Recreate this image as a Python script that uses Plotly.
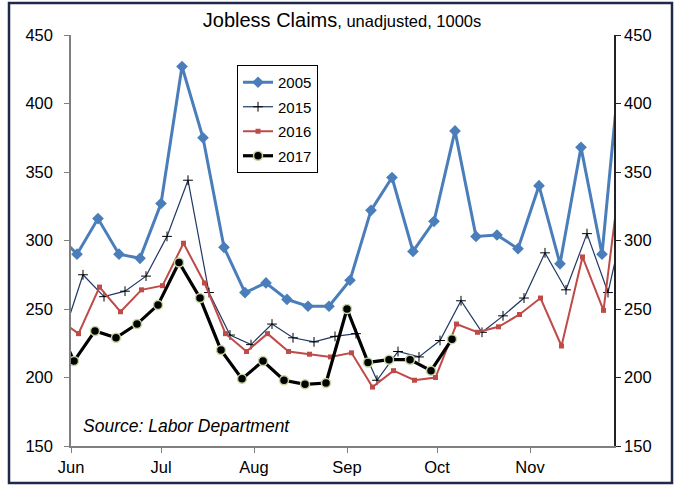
import plotly.graph_objects as go
import pandas as pd

# Weekly unadjusted initial jobless claims (thousands), plotted on a common Jun-Nov calendar.
# First value in each list is the week before June (clipped at the axis), the last values of
# 2005/2015/2016 are the week after the axis end (also clipped).
start_2005 = "2017-05-27"
start_2015 = "2017-05-29"
start_2016 = "2017-05-27 12:00"
start_2017 = "2017-05-26"

c2005 = [306, 290, 316, 290, 287, 327, 427, 375, 295, 262, 269, 257, 252, 252, 271,
         322, 346, 292, 314, 380, 303, 304, 294, 340, 283, 368, 290, 450]
c2015 = [228, 275, 259, 263, 274, 303, 344, 262, 231, 224, 239, 229, 226, 230, 232,
         198, 219, 215, 227, 256, 233, 245, 258, 291, 264, 305, 262, 330]
c2016 = [243, 232, 266, 248, 264, 267, 298, 269, 232, 219, 232, 219, 217, 215, 218,
         193, 205, 198, 200, 239, 233, 237, 246, 258, 223, 288, 249, 372]
c2017 = [245, 212, 234, 229, 239, 253, 284, 258, 220, 199, 212, 198, 195, 196, 250,
         211, 213, 213, 205, 228]

y_ticks = [150, 200, 250, 300, 350, 400, 450]
x_range = ["2017-06-01", "2017-11-29"]


def weeks(start, n):
    return pd.date_range(start, periods=n, freq="7D")


FONT = "Liberation Sans, Arial, sans-serif"

fig = go.Figure()
fig.add_trace(go.Scatter(
    x=weeks(start_2005, len(c2005)), y=c2005, name="2005", mode="lines+markers",
    line=dict(color="#4A7EBB", width=3),
    marker=dict(symbol="diamond", size=9, color="#4A7EBB"),
    legendgroup="a"))
fig.add_trace(go.Scatter(
    x=weeks(start_2015, len(c2015)), y=c2015, name="2015", mode="lines+markers",
    line=dict(color="#1F3864", width=1.2),
    marker=dict(symbol="cross-thin", size=7, color="#000000",
                line=dict(color="#000000", width=1)),
    legendgroup="b"))
fig.add_trace(go.Scatter(
    x=weeks(start_2016, len(c2016)), y=c2016, name="2016", mode="lines+markers",
    line=dict(color="#BE4B48", width=2),
    marker=dict(symbol="square", size=5, color="#BE4B48"),
    legendgroup="c"))
fig.add_trace(go.Scatter(
    x=weeks(start_2017, len(c2017)), y=c2017, name="2017", mode="lines+markers",
    line=dict(color="#000000", width=3.2),
    marker=dict(symbol="circle", size=9, color="#000000",
                line=dict(color="#C3D69B", width=1.5)),
    legendgroup="d"))

fig.update_layout(
    width=680, height=485,
    margin=dict(l=71, r=66, t=35, b=39, autoexpand=False),
    paper_bgcolor="white", plot_bgcolor="white",
    font=dict(family=FONT, size=16, color="#000000"),
    showlegend=True,
    hovermode=False,
    title=dict(
        text="Jobless Claims<span style='font-size:16.5px'>, unadjusted, 1000s</span>",
        x=0.503, xref="container", xanchor="center",
        y=1 - 20 / 485, yref="container", yanchor="middle",
        font=dict(family=FONT, size=20, color="#000000"),
        automargin=False),
    legend=dict(
        x=(237 - 71) / 543, xanchor="left",
        y=(446 - 65) / 411, yanchor="top",
        bgcolor="white", bordercolor="#000000", borderwidth=1,
        font=dict(family=FONT, size=15),
        traceorder="grouped", tracegroupgap=2,
        itemwidth=30),
    xaxis=dict(
        type="date", range=x_range, tick0="2017-06-01", dtick="M1", tickformat="%b",
        ticks="outside", ticklen=5, tickcolor="#7F7F7F", showline=True,
        linecolor="#7F7F7F", linewidth=1.5, showgrid=False, zeroline=False,
        tickfont=dict(size=16.5), automargin=False),
    yaxis=dict(
        range=[150, 450], tickvals=y_ticks, ticks="outside", ticklen=5,
        tickcolor="#7F7F7F", showline=True, linecolor="#7F7F7F", linewidth=1.5,
        showgrid=False, zeroline=False, tickfont=dict(size=16.5),
        ticklabelstandoff=8, automargin=False),
    yaxis2=dict(
        range=[150, 450], tickvals=y_ticks, overlaying="y", side="right",
        ticks="outside", ticklen=5, tickcolor="#222222", showline=True,
        linecolor="#222222", linewidth=1.5, showgrid=False, zeroline=False,
        tickfont=dict(size=16.5), automargin=False),
    annotations=[dict(
        text="<i>Source: Labor Department</i>", xref="paper", yref="paper",
        x=(81 - 71) / 543, y=(446 - 426) / 411, xanchor="left", yanchor="middle",
        showarrow=False, font=dict(family=FONT, size=17.5, color="#000000"))],
    shapes=[dict(
        type="rect", xref="paper", yref="paper",
        x0=(9 - 71) / 543, x1=(672 - 71) / 543,
        y0=(446 - 483) / 411, y1=(446 - 3) / 411,
        line=dict(color="#1F2A4A", width=2.5), fillcolor="rgba(0,0,0,0)", layer="below")],
)

# empty trace so the right-hand axis is rendered
fig.add_trace(go.Scatter(x=[None], y=[None], yaxis="y2", showlegend=False, hoverinfo="skip"))

fig.write_html("out.html")
